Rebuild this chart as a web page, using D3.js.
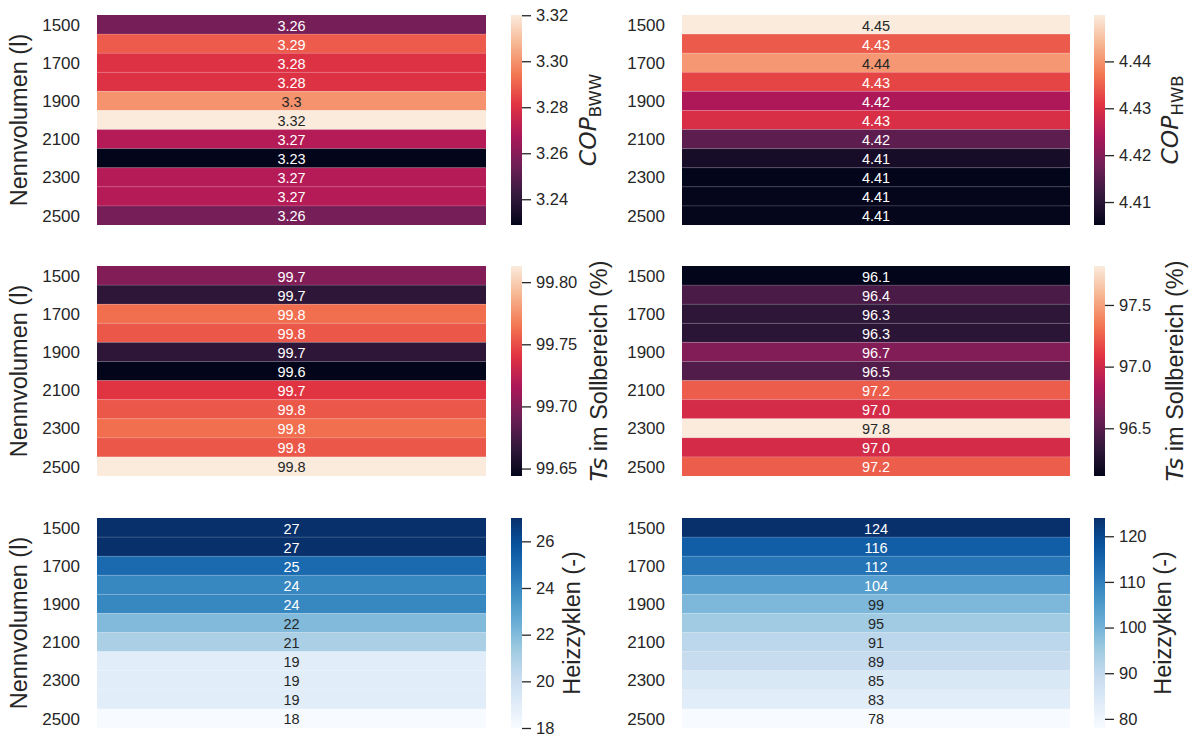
<!DOCTYPE html>
<html>
<head>
<meta charset="utf-8">
<script src="https://cdn.jsdelivr.net/npm/d3@7"></script>
<style>
  body { margin: 0; background: #fff; }
  svg text { font-family: "Liberation Sans", Arial, sans-serif; fill: #262626; }
</style>
</head>
<body>
<svg id="chart" width="1195" height="735"></svg>
<script>
// Nominal storage volumes (rows of every heatmap)
const volumes = [1500, 1600, 1700, 1800, 1900, 2000, 2100, 2200, 2300, 2400, 2500];
const volumeTicks = [1500, 1700, 1900, 2100, 2300, 2500];

// COP for domestic hot water (BWW) and for space heating (HWB)
const copBww = [3.2562, 3.2888, 3.2799, 3.2799, 3.3001, 3.3201, 3.2699, 3.2288, 3.2699, 3.2699, 3.2562];
const copHwb = [4.4499, 4.4344, 4.4405, 4.4324, 4.4245, 4.4297, 4.4158, 4.4078, 4.4051, 4.4054, 4.4053];

// Share of time with storage temperature inside the target band (%)
const tsBww = [99.6998, 99.6650, 99.7620, 99.7540, 99.6650, 99.6440, 99.7410, 99.7540, 99.7620, 99.7540, 99.8130];
const tsHwb = [96.113, 96.438, 96.318, 96.310, 96.675, 96.470, 97.237, 97.020, 97.816, 97.020, 97.237];

// Number of heating cycles
const cyclesBww = [27, 27, 25, 24, 24, 22, 21, 19, 19, 19, 18];
const cyclesHwb = [124, 116, 112, 104, 99, 95, 91, 89, 85, 83, 78];

// Colour bar tick values
const ticksCopBww = [3.24, 3.26, 3.28, 3.30, 3.32];
const ticksCopHwb = [4.41, 4.42, 4.43, 4.44];
const ticksTsBww = [99.65, 99.70, 99.75, 99.80];
const ticksTsHwb = [96.5, 97.0, 97.5];
const ticksCyclesBww = [18, 20, 22, 24, 26];
const ticksCyclesHwb = [80, 90, 100, 110, 120];

// Colour maps: "rocket" (piecewise approximation) and matplotlib "Blues"
const rocketStops = ["#03051a", "#35193e", "#701f57", "#ad1759", "#e13342", "#f37651", "#f6b48f", "#faebdd"];
const bluesStops = ["#f7fbff", "#deebf7", "#c6dbef", "#9ecae1", "#6baed6", "#4292c6", "#2171b5", "#08519c", "#08306b"];
const rocket = d3.piecewise(d3.interpolateRgb, rocketStops);
const blues = d3.piecewise(d3.interpolateRgb, bluesStops);

const labelCop = sub => [{ t: "COP", math: true }, { t: sub, sub: true }];
const labelTs = [{ t: "Ts", math: true }, { t: " im Sollbereich (%)" }];
const labelCycles = [{ t: "Heizzyklen (-)" }];

const panels = [
  { row: 0, col: 0, values: copBww, cmap: rocket, fmt: ".3~g", ticks: ticksCopBww, tickFmt: ".2f", label: labelCop("BWW"), labelX: 596 },
  { row: 0, col: 1, values: copHwb, cmap: rocket, fmt: ".3~g", ticks: ticksCopHwb, tickFmt: ".2f", label: labelCop("HWB"), labelX: 1178 },
  { row: 1, col: 0, values: tsBww, cmap: rocket, fmt: ".1f", ticks: ticksTsBww, tickFmt: ".2f", label: labelTs, labelX: 607 },
  { row: 1, col: 1, values: tsHwb, cmap: rocket, fmt: ".1f", ticks: ticksTsHwb, tickFmt: ".1f", label: labelTs, labelX: 1183 },
  { row: 2, col: 0, values: cyclesBww, cmap: blues, fmt: "d", ticks: ticksCyclesBww, tickFmt: "d", label: labelCycles, labelX: 580 },
  { row: 2, col: 1, values: cyclesHwb, cmap: blues, fmt: "d", ticks: ticksCyclesHwb, tickFmt: "d", label: labelCycles, labelX: 1171 }
];

// Layout
const cols = [
  { x0: 97, x1: 486, cb0: 511, cb1: 522 },
  { x0: 682, x1: 1070, cb0: 1094, cb1: 1105 }
];
const rows = [[15, 225], [266, 476], [518, 728]];

const svg = d3.select("#chart");
const defs = svg.append("defs");

function luminance(c) {
  const rgb = d3.rgb(c);
  const lin = v => { v /= 255; return v <= 0.03928 ? v / 12.92 : Math.pow((v + 0.055) / 1.055, 2.4); };
  return 0.2126 * lin(rgb.r) + 0.7152 * lin(rgb.g) + 0.0722 * lin(rgb.b);
}

panels.forEach((p, k) => {
  const c = cols[p.col];
  const [y0, y1] = rows[p.row];
  const g = svg.append("g");

  const y = d3.scaleBand().domain(volumes).range([y0, y1]).padding(0);
  const ext = d3.extent(p.values);
  const color = d3.scaleSequential(p.cmap).domain(ext);

  // cells
  g.selectAll("rect.cell").data(p.values).join("rect")
    .attr("class", "cell")
    .attr("x", c.x0)
    .attr("width", c.x1 - c.x0)
    .attr("y", (d, i) => y(volumes[i]))
    .attr("height", y.bandwidth())
    .attr("fill", d => color(d));

  // faint seams between rows
  g.selectAll("line.seam").data(volumes.slice(1)).join("line")
    .attr("x1", c.x0).attr("x2", c.x1)
    .attr("y1", v => y(v)).attr("y2", v => y(v))
    .attr("stroke", "#fff").attr("stroke-opacity", 0.18).attr("stroke-width", 0.8);

  // annotations
  const fmt = d3.format(p.fmt);
  g.selectAll("text.annot").data(p.values).join("text")
    .attr("class", "annot")
    .attr("x", (c.x0 + c.x1) / 2)
    .attr("y", (d, i) => y(volumes[i]) + y.bandwidth() / 2 + 1)
    .attr("text-anchor", "middle")
    .attr("dominant-baseline", "central")
    .style("font-size", "14.5px")
    .style("fill", d => luminance(color(d)) > 0.408 ? "#262626" : "#ffffff")
    .text(d => fmt(d));

  // y axis
  const ya = g.append("g").attr("transform", `translate(${c.x0},0)`)
    .call(d3.axisLeft(y).tickValues(volumeTicks).tickSize(0).tickPadding(17));
  ya.select(".domain").remove();
  ya.selectAll("text").style("font-size", "17px").attr("fill", null).attr("dy", "0.36em");

  if (p.col === 0) {
    g.append("text")
      .attr("transform", `translate(27,${(y0 + y1) / 2}) rotate(-90)`)
      .attr("text-anchor", "middle")
      .style("font-size", "23.5px")
      .text("Nennvolumen (l)");
  }

  // colour bar
  const gid = "cbgrad" + k;
  const grad = defs.append("linearGradient").attr("id", gid)
    .attr("x1", 0).attr("y1", 1).attr("x2", 0).attr("y2", 0);
  d3.range(0, 1.0001, 1 / 64).forEach(t => {
    grad.append("stop").attr("offset", t).attr("stop-color", p.cmap(t));
  });
  g.append("rect")
    .attr("x", c.cb0).attr("y", y0)
    .attr("width", c.cb1 - c.cb0).attr("height", y1 - y0)
    .attr("fill", `url(#${gid})`);

  const cy = d3.scaleLinear().domain(ext).range([y1, y0]);
  const ca = g.append("g").attr("transform", `translate(${c.cb1},0)`)
    .call(d3.axisRight(cy).tickValues(p.ticks).tickFormat(d3.format(p.tickFmt)).tickSize(9).tickPadding(5));
  ca.select(".domain").remove();
  ca.selectAll("line").attr("stroke", "#262626").attr("stroke-width", 1.3);
  ca.selectAll("text").style("font-size", "16.5px").attr("fill", null);

  // colour bar label
  const lab = g.append("text")
    .attr("transform", `translate(${p.labelX},${(y0 + y1) / 2}) rotate(-90)`)
    .attr("text-anchor", "middle")
    .style("font-size", "23.5px");
  p.label.forEach(s => {
    const ts = lab.append("tspan").text(s.t);
    if (s.math) ts.style("font-family", "'DejaVu Sans', sans-serif").style("font-style", "italic");
    if (s.sub) ts.style("font-family", "'DejaVu Sans', sans-serif").style("font-size", "16.5px").attr("dy", "5");
  });
});
</script>
</body>
</html>
